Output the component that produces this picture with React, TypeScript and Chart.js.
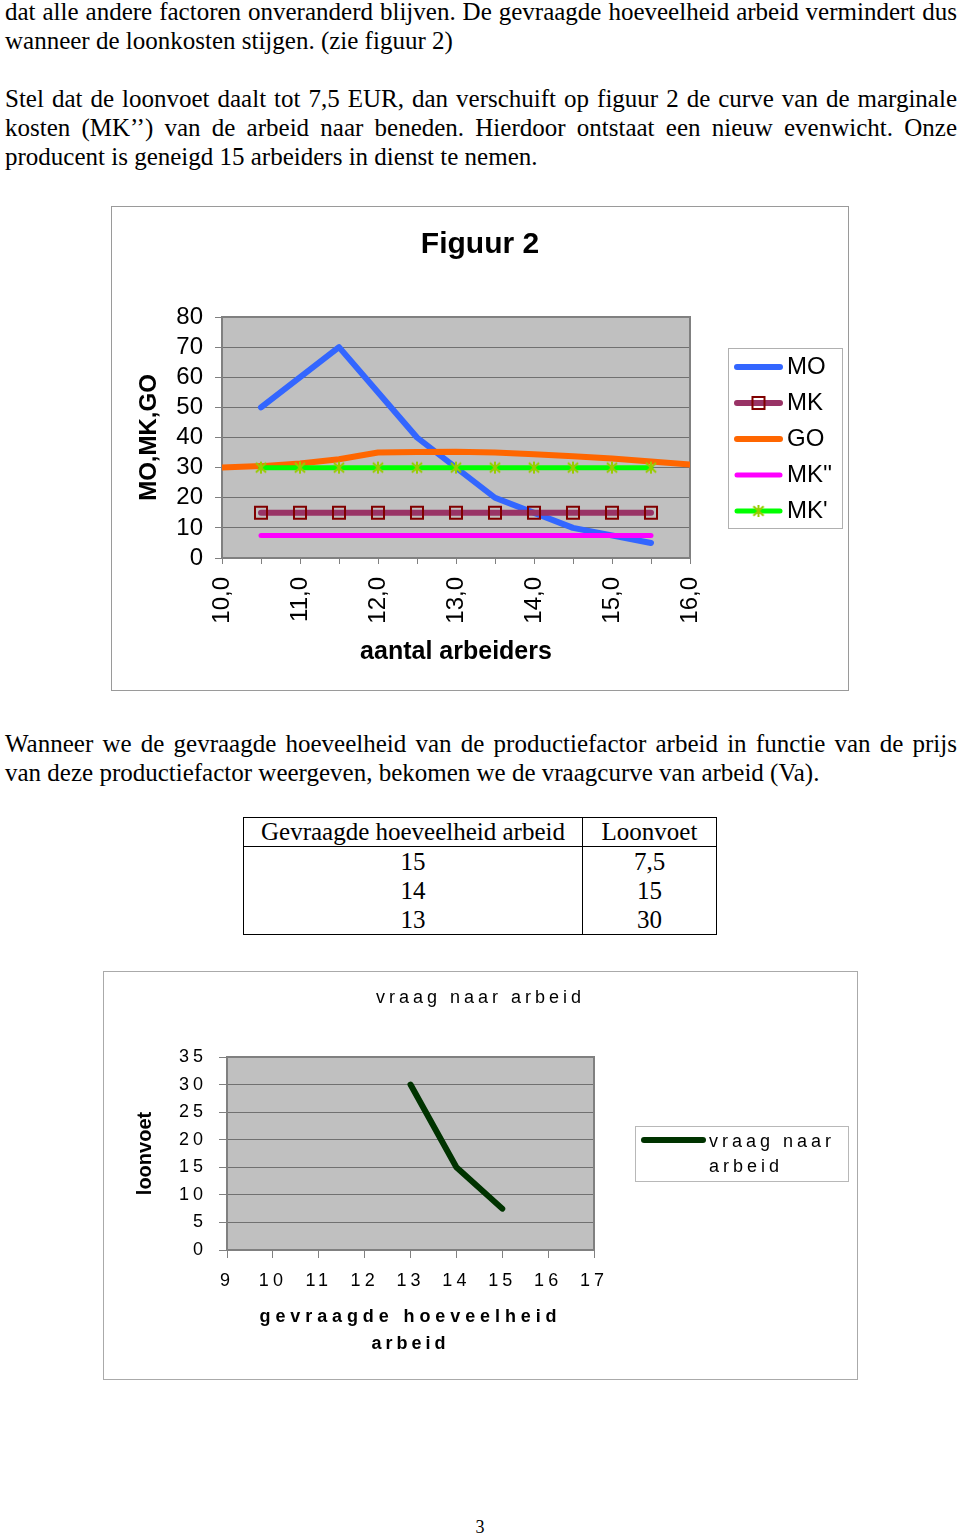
import React, { useEffect, useRef } from 'react';
import { Chart, registerables } from 'chart.js';

Chart.register(...registerables);

const FONT = "'Liberation Sans', Arial, Helvetica, sans-serif";
const SERIF = "'Liberation Serif', 'Times New Roman', Times, serif";

// ---------- Figuur 2 data ----------
const fig2Title = 'Figuur 2';
const fig2XTitle = 'aantal arbeiders';
const fig2YTitle = 'MO,MK,GO';
const fig2XTickValues = [10, 11, 12, 13, 14, 15, 16];
const fig2XTickLabels = ['10,0', '11,0', '12,0', '13,0', '14,0', '15,0', '16,0'];
const seriesLabels = ['MO', 'MK', 'GO', "MK''", "MK'"];

const moX = [10.5, 11.5, 12.5, 13.5, 14.5, 15.5];
const moY = [50, 70, 40, 20, 10, 5];
const mkX = [10.5, 11, 11.5, 12, 12.5, 13, 13.5, 14, 14.5, 15, 15.5];
const mkY = [15, 15, 15, 15, 15, 15, 15, 15, 15, 15, 15];
const goX = [10, 10.5, 11, 11.5, 12, 12.5, 13, 13.5, 14, 14.5, 15, 15.5, 16];
const goY = [30, 30.5, 31.4, 32.8, 35, 35.2, 35.3, 35, 34.4, 33.8, 33, 32, 31];
const mk2Y = [7.5, 7.5, 7.5, 7.5, 7.5, 7.5, 7.5, 7.5, 7.5, 7.5, 7.5];
const mk1Y = [30, 30, 30, 30, 30, 30, 30, 30, 30, 30, 30];

// ---------- Vraag naar arbeid data ----------
const vraagTitle = 'vraag naar arbeid';
const vraagLabel = 'vraag naar arbeid';
const vraagXTitle = ['gevraagde hoeveelheid', 'arbeid'];
const vraagYTitle = 'loonvoet';
const vraagX = [13, 14, 15];
const vraagY = [30, 15, 7.5];

// ---------- Table data ----------
const tableHeaders = ['Gevraagde hoeveelheid arbeid', 'Loonvoet'];
const tableQuantity = ['15', '14', '13'];
const tableWage = ['7,5', '15', '30'];

const pts = (xs: number[], ys: number[]) => xs.map((x, i) => ({ x, y: ys[i] }));

function applyLetterSpacing(ctx: any, px: number, special: Record<string, number>) {
  const fill = ctx.fillText.bind(ctx);
  const measure = ctx.measureText.bind(ctx);
  const sp = (t: any) => {
    const k = String(t);
    return (k in special ? special[k] : px) + 'px';
  };
  ctx.fillText = (t: any, x: number, y: number, m?: number) => {
    const prev = ctx.letterSpacing;
    ctx.letterSpacing = sp(t);
    if (m === undefined) fill(t, x, y);
    else fill(t, x, y, m);
    ctx.letterSpacing = prev;
  };
  ctx.measureText = (t: any) => {
    const prev = ctx.letterSpacing;
    ctx.letterSpacing = sp(t);
    const r = measure(t);
    ctx.letterSpacing = prev;
    return r;
  };
}

function makeStar(color: string, size: number, lw: number) {
  const c = document.createElement('canvas');
  c.width = size;
  c.height = size;
  const g = c.getContext('2d') as CanvasRenderingContext2D;
  g.strokeStyle = color;
  g.lineWidth = lw;
  const m = size / 2;
  const r = size / 2 - 1;
  g.beginPath();
  g.moveTo(m - r * 0.85, m - r * 0.8);
  g.lineTo(m + r * 0.85, m + r * 0.8);
  g.moveTo(m + r * 0.85, m - r * 0.8);
  g.lineTo(m - r * 0.85, m + r * 0.8);
  g.moveTo(m, m - r);
  g.lineTo(m, m + r);
  g.stroke();
  return c;
}

const plotFrame = {
  id: 'plotFrame',
  beforeDraw(chart: any, _a: any, o: any) {
    const { ctx, chartArea: ca } = chart;
    ctx.save();
    ctx.fillStyle = o.bg;
    ctx.fillRect(ca.left, ca.top, ca.right - ca.left, ca.bottom - ca.top);
    ctx.restore();
  },
  beforeDatasetsDraw(chart: any, _a: any, o: any) {
    const { ctx, chartArea: ca } = chart;
    ctx.save();
    ctx.strokeStyle = o.border;
    ctx.lineWidth = o.borderWidth;
    ctx.strokeRect(ca.left, ca.top, ca.right - ca.left, ca.bottom - ca.top);
    ctx.restore();
  },
};

function wrapText(ctx: any, text: string, maxW: number) {
  const words = text.split(' ');
  const lines: string[] = [];
  let cur = '';
  for (const w of words) {
    const test = cur ? cur + ' ' + w : w;
    if (cur && ctx.measureText(test).width > maxW) {
      lines.push(cur);
      cur = w;
    } else cur = test;
  }
  if (cur) lines.push(cur);
  return lines;
}

const boxLegend = {
  id: 'boxLegend',
  afterDraw(chart: any, _a: any, o: any) {
    if (!o || !o.width) return;
    const ctx = chart.ctx;
    const ca = chart.chartArea;
    const left = Math.round(ca.right + o.gap);
    const top = Math.round((ca.top + ca.bottom) / 2 - o.height / 2);
    ctx.save();
    ctx.fillStyle = '#ffffff';
    ctx.fillRect(left, top, o.width, o.height);
    ctx.strokeStyle = o.borderColor;
    ctx.lineWidth = 1;
    ctx.strokeRect(left + 0.5, top + 0.5, o.width, o.height);
    chart.data.datasets.forEach((ds: any, i: number) => {
      const y = top + o.firstRow + i * o.rowHeight;
      ctx.strokeStyle = ds.borderColor;
      ctx.lineWidth = ds.borderWidth;
      ctx.lineCap = 'round';
      ctx.beginPath();
      ctx.moveTo(left + o.lineStart, y);
      ctx.lineTo(left + o.lineEnd, y);
      ctx.stroke();
      const mx = left + (o.lineStart + o.lineEnd) / 2;
      if (ds.pointStyle === 'rect') {
        const s = Math.SQRT1_2 * ds.pointRadius;
        ctx.lineCap = 'butt';
        ctx.strokeStyle = ds.pointBorderColor;
        ctx.lineWidth = ds.pointBorderWidth;
        ctx.strokeRect(mx - s, y - s, 2 * s, 2 * s);
      } else if (ds.pointStyle && typeof ds.pointStyle === 'object') {
        const img = ds.pointStyle;
        ctx.drawImage(img, mx - img.width / 2, y - img.height / 2);
      }
      ctx.fillStyle = '#000';
      ctx.font = `${o.fontSize}px ${FONT}`;
      ctx.textBaseline = 'middle';
      ctx.textAlign = 'left';
      const lines = wrapText(ctx, ds.label, o.maxTextWidth);
      lines.forEach((ln: string, k: number) => {
        ctx.fillText(ln, left + o.textX, y + o.textDy + k * o.textLineHeight);
      });
    });
    ctx.restore();
  },
};

function Figuur2() {
  const ref = useRef<HTMLCanvasElement>(null);
  useEffect(() => {
    const canvas = ref.current as HTMLCanvasElement;
    const star = makeStar('#99CC00', 14, 2);
    const chart = new Chart(canvas, {
      type: 'line',
      data: {
        datasets: [
          { label: seriesLabels[0], data: pts(moX, moY), borderColor: '#3366FF', borderWidth: 6, pointRadius: 0, order: 5, yAxisID: 'y' },
          {
            label: seriesLabels[1], data: pts(mkX, mkY), borderColor: '#993366', borderWidth: 6,
            pointStyle: 'rect', pointRadius: 8.5, pointBorderColor: '#800000', pointBackgroundColor: 'rgba(0,0,0,0)',
            pointBorderWidth: 2, order: 4, yAxisID: 'y',
          },
          { label: seriesLabels[2], data: pts(goX, goY), borderColor: '#FF6600', borderWidth: 6, pointRadius: 0, order: 3, yAxisID: 'y' },
          { label: seriesLabels[3], data: pts(mkX, mk2Y), borderColor: '#FF00FF', borderWidth: 5, pointRadius: 0, order: 2, yAxisID: 'y' },
          {
            label: seriesLabels[4], data: pts(mkX, mk1Y), borderColor: '#00FF00', borderWidth: 5,
            pointStyle: star, pointRadius: 7, order: 1, yAxisID: 'y',
          },
        ] as any,
      },
      options: {
        responsive: false,
        animation: false,
        events: [],
        layout: { padding: 0 },
        elements: { line: { tension: 0, borderCapStyle: 'round', borderJoinStyle: 'round', fill: false } },
        plugins: {
          legend: { display: false },
          tooltip: { enabled: false },
          title: {
            display: true, text: fig2Title, color: '#000',
            font: { family: FONT, size: 30, weight: 'bold', lineHeight: 1.2 },
            padding: { top: 20, bottom: 54 },
          },
          plotFrame: { bg: '#C0C0C0', border: '#808080', borderWidth: 2 },
          boxLegend: {
            gap: 38, width: 114, height: 180, borderColor: '#b0b0b0', firstRow: 19, rowHeight: 36,
            lineStart: 9, lineEnd: 52, textX: 59, fontSize: 24, textDy: 0, textLineHeight: 28, maxTextWidth: 1000,
          },
        } as any,
        scales: {
          x: {
            type: 'linear', min: 10, max: 16,
            ticks: {
              stepSize: 0.5, autoSkip: false, minRotation: 90, maxRotation: 90, padding: 13,
              color: '#000', font: { family: FONT, size: 24 },
              callback: (v: any) => {
                const i = fig2XTickValues.indexOf(Number(v));
                return i >= 0 ? fig2XTickLabels[i] : '';
              },
            },
            grid: { drawOnChartArea: false, drawTicks: true, tickLength: 6, tickColor: '#808080' },
            border: { display: false },
            title: {
              display: true, text: fig2XTitle, color: '#000',
              font: { family: FONT, size: 25, weight: 'bold', lineHeight: 1.2 },
              padding: { top: 0, bottom: 23 },
            },
            afterFit: (s: any) => { s.height = 132; },
          },
          y: {
            min: 0, max: 80,
            ticks: { stepSize: 10, autoSkip: false, padding: 12, color: '#000', font: { family: FONT, size: 24 } },
            grid: { color: '#707070', lineWidth: 1, tickLength: 7, tickColor: '#808080' },
            border: { display: false },
            title: {
              display: true, text: fig2YTitle, color: '#000',
              font: { family: FONT, size: 24, weight: 'bold', lineHeight: 1.2 },
              padding: { top: 22.6, bottom: 0 },
            },
            afterFit: (s: any) => { s.width = 110; },
          },
          yR: {
            position: 'right', display: true,
            grid: { display: false }, ticks: { display: false }, border: { display: false },
            afterFit: (s: any) => { s.width = 158; },
          },
        } as any,
      },
      plugins: [plotFrame, boxLegend],
    });
    return () => chart.destroy();
  }, []);
  return <canvas ref={ref} width={736} height={483} style={{ display: 'block', width: 736, height: 483 }} />;
}

function VraagChart() {
  const ref = useRef<HTMLCanvasElement>(null);
  useEffect(() => {
    const canvas = ref.current as HTMLCanvasElement;
    const ctx = canvas.getContext('2d');
    applyLetterSpacing(ctx, 4, { [vraagYTitle]: 0, [vraagXTitle[0]]: 4.9 });
    const chart = new Chart(canvas, {
      type: 'line',
      data: {
        datasets: [
          { label: vraagLabel, data: pts(vraagX, vraagY), borderColor: '#003300', borderWidth: 6, pointRadius: 0, yAxisID: 'y' },
        ] as any,
      },
      options: {
        responsive: false,
        animation: false,
        events: [],
        layout: { padding: 0 },
        elements: { line: { tension: 0, borderCapStyle: 'round', borderJoinStyle: 'round', fill: false } },
        plugins: {
          legend: { display: false },
          tooltip: { enabled: false },
          title: {
            display: true, text: vraagTitle, color: '#000',
            font: { family: FONT, size: 18, weight: 'normal', lineHeight: 1.2 },
            padding: { top: 15, bottom: 48.4 },
          },
          plotFrame: { bg: '#C0C0C0', border: '#808080', borderWidth: 2 },
          boxLegend: {
            gap: 41, width: 213, height: 55, borderColor: '#b8b8b8', firstRow: 14, rowHeight: 0,
            lineStart: 9, lineEnd: 68, textX: 74, fontSize: 18, textDy: 2, textLineHeight: 25, maxTextWidth: 135,
          },
        } as any,
        scales: {
          x: {
            type: 'linear', min: 9, max: 17,
            ticks: { stepSize: 1, autoSkip: false, maxRotation: 0, padding: 12, color: '#000', font: { family: FONT, size: 18 } },
            grid: { drawOnChartArea: false, drawTicks: true, tickLength: 8, tickColor: '#808080' },
            border: { display: false },
            title: {
              display: true, text: vraagXTitle, color: '#000',
              font: { family: FONT, size: 18, weight: 'bold', lineHeight: 1.5 },
              padding: { top: 0, bottom: 21.5 },
            },
            afterFit: (s: any) => { s.height = 129; },
          },
          y: {
            min: 0, max: 35,
            ticks: { stepSize: 5, autoSkip: false, padding: 12, color: '#000', font: { family: FONT, size: 18 } },
            grid: { color: '#707070', lineWidth: 1, tickLength: 8, tickColor: '#808080' },
            border: { display: false },
            title: {
              display: true, text: vraagYTitle, color: '#000',
              font: { family: FONT, size: 20, weight: 'bold', lineHeight: 1.2 },
              padding: { top: 29, bottom: 0 },
            },
            afterFit: (s: any) => { s.width = 123; },
          },
          yR: {
            position: 'right', display: true,
            grid: { display: false }, ticks: { display: false }, border: { display: false },
            afterFit: (s: any) => { s.width = 263; },
          },
        } as any,
      },
      plugins: [plotFrame, boxLegend],
    });
    return () => chart.destroy();
  }, []);
  return <canvas ref={ref} width={753} height={407} style={{ display: 'block', width: 753, height: 407 }} />;
}

const lineStyle = (top: number, justify: boolean): React.CSSProperties => ({
  position: 'absolute',
  left: 5,
  top,
  width: 952,
  height: 29,
  lineHeight: '29px',
  whiteSpace: justify ? 'normal' : 'nowrap',
  textAlign: justify ? 'justify' : 'left',
  textAlignLast: justify ? 'justify' : 'auto',
  overflow: 'visible',
} as any);

const cell = (left: number, top: number, width: number, height: number): React.CSSProperties => ({
  position: 'absolute', left, top, width, height, lineHeight: height + 'px', textAlign: 'center', whiteSpace: 'nowrap',
});

export default function App() {
  return (
    <div
      style={{
        position: 'absolute', left: 0, top: 0, width: 960, height: 1537, background: '#fff',
        fontFamily: SERIF, fontSize: 25, color: '#000', overflow: 'hidden',
      }}
    >
      <div style={lineStyle(-3, true)}>dat alle andere factoren onveranderd blijven. De gevraagde hoeveelheid arbeid vermindert dus</div>
      <div style={lineStyle(26, false)}>wanneer de loonkosten stijgen. (zie figuur 2)</div>
      <div style={lineStyle(84, true)}>Stel dat de loonvoet daalt tot 7,5 EUR, dan verschuift op figuur 2 de curve van de marginale</div>
      <div style={lineStyle(113, true)}>kosten (MK’’) van de arbeid naar beneden. Hierdoor ontstaat een nieuw evenwicht. Onze</div>
      <div style={lineStyle(142, false)}>producent is geneigd 15 arbeiders in dienst te nemen.</div>

      <div style={{ position: 'absolute', left: 111, top: 206, width: 738, height: 485, border: '1px solid #9a9a9a', boxSizing: 'border-box', background: '#fff' }}>
        <Figuur2 />
      </div>

      <div style={lineStyle(729, true)}>Wanneer we de gevraagde hoeveelheid van de productiefactor arbeid in functie van de prijs</div>
      <div style={lineStyle(758, false)}>van deze productiefactor weergeven, bekomen we de vraagcurve van arbeid (Va).</div>

      <div style={{ position: 'absolute', left: 243, top: 817, width: 474, height: 118, border: '1px solid #000', boxSizing: 'border-box' }}>
        <div style={{ position: 'absolute', left: 338, top: 0, bottom: 0, width: 1, background: '#000' }} />
        <div style={{ position: 'absolute', left: 0, right: 0, top: 28, height: 1, background: '#000' }} />
        <div style={cell(0, 0, 338, 28)}>{tableHeaders[0]}</div>
        <div style={cell(339, 0, 133, 28)}>{tableHeaders[1]}</div>
        {tableQuantity.map((q, i) => (
          <div key={'q' + i} style={cell(0, 29 + i * 29, 338, 29)}>{q}</div>
        ))}
        {tableWage.map((w, i) => (
          <div key={'w' + i} style={cell(339, 29 + i * 29, 133, 29)}>{w}</div>
        ))}
      </div>

      <div style={{ position: 'absolute', left: 103, top: 971, width: 755, height: 409, border: '1px solid #aaaaaa', boxSizing: 'border-box', background: '#fff' }}>
        <VraagChart />
      </div>

      <div style={{ position: 'absolute', left: 470, top: 1517, width: 20, height: 20, lineHeight: '20px', fontSize: 18, textAlign: 'center' }}>3</div>
    </div>
  );
}
